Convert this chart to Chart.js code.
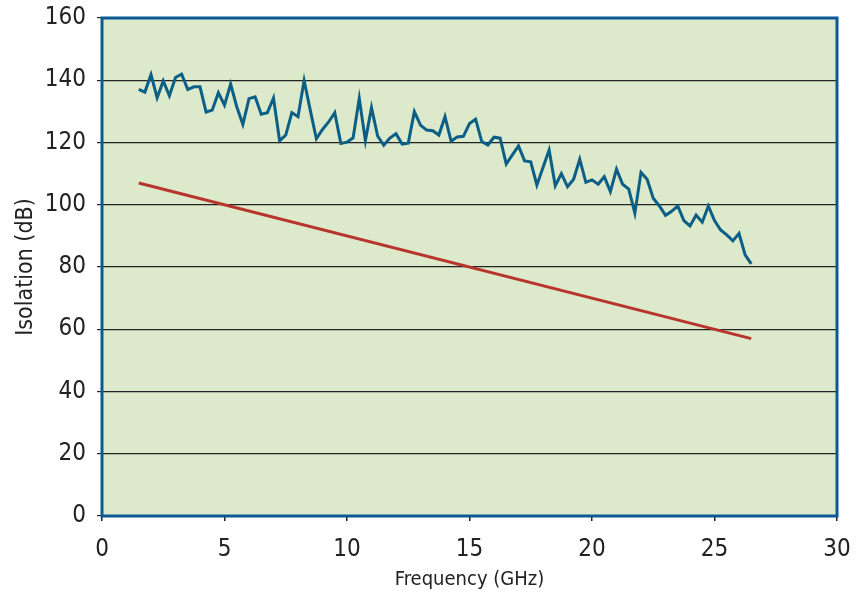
<!DOCTYPE html>
<html>
<head>
<meta charset="utf-8">
<script src="https://cdn.jsdelivr.net/npm/chart.js@4/dist/chart.umd.min.js"></script>
<style>
  html, body { margin: 0; padding: 0; background: #ffffff; }
  #wrap { width: 864px; height: 595px; }
</style>
</head>
<body>
<div id="wrap"><canvas id="c" width="864" height="595"></canvas></div>
<script>
const frequencyGHz = [
  1.5, 1.75, 2, 2.25, 2.5, 2.75, 3, 3.25, 3.5, 3.75,
  4, 4.25, 4.5, 4.75, 5, 5.25, 5.5, 5.75, 6, 6.25,
  6.5, 6.75, 7, 7.25, 7.5, 7.75, 8, 8.25, 8.5, 8.75,
  9, 9.25, 9.5, 9.75, 10, 10.25, 10.5, 10.75, 11, 11.25,
  11.5, 11.75, 12, 12.25, 12.5, 12.75, 13, 13.25, 13.5, 13.75,
  14, 14.25, 14.5, 14.75, 15, 15.25, 15.5, 15.75, 16, 16.25,
  16.5, 16.75, 17, 17.25, 17.5, 17.75, 18, 18.25, 18.5, 18.75,
  19, 19.25, 19.5, 19.75, 20, 20.25, 20.5, 20.75, 21, 21.25,
  21.5, 21.75, 22, 22.25, 22.5, 22.75, 23, 23.25, 23.5, 23.75,
  24, 24.25, 24.5, 24.75, 25, 25.25, 25.5, 25.75, 26, 26.25,
  26.5
];
const measuredIsolation = [
  137.1, 136.2, 141.8, 134.4, 139.8, 135.0, 140.9, 142.0, 137.0, 137.9,
  137.9, 129.8, 130.4, 136.0, 132.0, 138.8, 131.5, 125.8, 134.1, 134.7,
  129.1, 129.6, 134.3, 120.5, 122.4, 129.6, 128.3, 139.9, 130.4, 121.2,
  124.2, 126.6, 129.6, 119.7, 120.1, 121.5, 134.2, 120.6, 131.2, 122.1,
  119.1, 121.4, 122.8, 119.5, 119.8, 129.9, 125.6, 124.0, 123.8, 122.4,
  128.3, 120.4, 121.8, 122.0, 126.1, 127.5, 120.3, 119.2, 121.7, 121.4,
  113.1, 116.0, 118.9, 114.1, 113.8, 106.3, 112.0, 117.6, 106.1, 110.0,
  105.8, 108.2, 114.6, 107.2, 108.0, 106.6, 109.0, 104.2, 111.4, 106.6,
  105.0, 97.3, 110.4, 108.2, 102.1, 99.6, 96.6, 97.9, 99.6, 94.9,
  93.2, 96.7, 94.4, 99.6, 94.9, 91.9, 90.3, 88.4, 90.8, 83.9,
  81.0
];
const specFrequencyGHz = [1.5, 26.5];
const specIsolation = [107, 57];

const xTicks = [0, 5, 10, 15, 20, 25, 30];
const yTicks = [0, 20, 40, 60, 80, 100, 120, 140, 160];

const FONT = "'Liberation Sans Narrow', 'DejaVu Sans Condensed', 'Roboto Condensed', Roboto, sans-serif";

const plotFrame = {
  id: 'plotFrame',
  beforeDraw(chart) {
    const a = chart.chartArea, ctx = chart.ctx;
    ctx.save();
    ctx.fillStyle = '#dde9cb';
    ctx.fillRect(a.left, a.top, a.right - a.left, a.bottom - a.top);
    ctx.restore();
  },
  afterDraw(chart) {
    const a = chart.chartArea, ctx = chart.ctx;
    ctx.save();
    ctx.strokeStyle = '#0b5a94';
    ctx.lineWidth = 3;
    ctx.strokeRect(a.left, a.top, a.right - a.left, a.bottom - a.top);
    ctx.restore();
  }
};

new Chart(document.getElementById('c'), {
  type: 'line',
  data: {
    datasets: [
      {
        label: 'Measured isolation',
        data: frequencyGHz.map((f, i) => ({ x: f, y: measuredIsolation[i] })),
        borderColor: '#0b5f86',
        borderWidth: 3,
        pointRadius: 0,
        tension: 0,
        fill: false
      },
      {
        label: 'Specification',
        data: specFrequencyGHz.map((f, i) => ({ x: f, y: specIsolation[i] })),
        borderColor: '#b8352b',
        borderWidth: 3,
        pointRadius: 0,
        tension: 0,
        fill: false
      }
    ]
  },
  options: {
    responsive: false,
    animation: false,
    layout: { padding: { top: 18, right: 27, bottom: 0, left: 0 } },
    plugins: { legend: { display: false }, tooltip: { enabled: false } },
    scales: {
      x: {
        type: 'linear',
        min: 0, max: 30,
        afterBuildTicks(s) { s.ticks = xTicks.map(v => ({ value: v })); },
        afterFit(s) { s.height = 79; s.paddingLeft = 0; s.paddingRight = 0; },
        border: { display: false },
        grid: { drawOnChartArea: false, drawTicks: true, tickLength: 5, tickColor: '#222', lineWidth: 1.5 },
        ticks: { color: '#222', font: { family: FONT, size: 24 }, padding: 14, maxRotation: 0 },
        title: { display: true, text: 'Frequency (GHz)', color: '#222', font: { family: FONT, size: 20 }, padding: { top: 0, bottom: 3 } }
      },
      y: {
        type: 'linear',
        min: 0, max: 160,
        afterBuildTicks(s) { s.ticks = yTicks.map(v => ({ value: v })); },
        afterFit(s) { s.width = 102; s.paddingTop = 0; s.paddingBottom = 0; },
        border: { display: false },
        grid: { drawOnChartArea: true, drawTicks: true, tickLength: 5, color: '#222', tickColor: '#222', lineWidth: 1.2 },
        ticks: { color: '#222', font: { family: FONT, size: 24 }, padding: 11 },
        title: { display: true, text: 'Isolation (dB)', color: '#222', font: { family: FONT, size: 23 }, padding: { top: 12, bottom: 4 } }
      }
    }
  },
  plugins: [plotFrame]
});
</script>
</body>
</html>
